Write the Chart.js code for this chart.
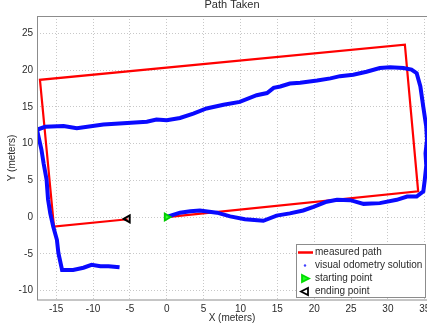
<!DOCTYPE html>
<html>
<head>
<meta charset="utf-8">
<script src="https://cdn.jsdelivr.net/npm/chart.js@4/dist/chart.umd.min.js"></script>
<style>
  html, body { margin: 0; padding: 0; background: #fff; }
  #wrap { width: 427px; height: 331px; }
</style>
</head>
<body>
<div id="wrap"><canvas id="path-chart"></canvas></div>
<script>
// measured path (red rectangle), meters
const measuredX = [0, 34.1, 32.3, -17.2, -15.3, -5.3];
const measuredY = [0, 3.5, 23.5, 18.7, -1.3, -0.3];

// visual odometry solution (blue)
const odomX = [0.2, 1.8, 3.2, 4.5, 6.8, 8.6, 10.6, 13.1, 14.9, 16.7, 18.5, 19.9, 21.7, 23.1, 24.9, 26.7,
  28.9, 31.2, 32.6, 33.9, 34.8, 35.0, 35.2, 35.1, 35.3, 35.2, 34.8, 34.4, 33.9, 33.2, 32.1, 30.3, 28.9,
  27.1, 25.3, 23.5, 22.2, 20.4, 18.1, 16.7, 15.4, 14.5, 13.6, 12.2, 9.9, 7.7, 5.4, 3.6, 1.8, 0, -1.4,
  -2.7, -5.9, -8.6, -12.2, -14.0, -16.5, -17.6, -17.4, -17.0, -16.7, -16.3, -16.1, -15.8, -15.4, -14.9,
  -14.7, -14.2, -12.7, -11.3, -10.2, -9.0, -7.9, -6.4];
const odomY = [0.1, 0.6, 0.8, 0.9, 0.6, 0.1, -0.3, -0.5, 0.2, 0.5, 0.9, 1.4, 2.1, 2.35, 2.3, 1.8,
  1.9, 2.35, 2.8, 2.8, 3.5, 5.1, 7.0, 8.7, 10.5, 12.3, 15.0, 17.8, 19.6, 20.1, 20.3, 20.4, 20.3,
  19.8, 19.4, 19.2, 18.9, 18.6, 18.3, 18.2, 17.8, 17.6, 16.9, 16.6, 15.7, 15.3, 14.8, 14.1, 13.5, 13.2, 13.3,
  13.0, 12.8, 12.6, 12.1, 12.4, 12.3, 11.9, 11.0, 9.2, 7.3, 5.1, 2.4, 0.5, -1.3, -3.1,
  -4.9, -7.2, -7.2, -6.9, -6.5, -6.7, -6.7, -6.85];

const startPoint = [0, 0];
const endPoint = [-5.3, -0.25];

const seriesLabels = ["measured path", "visual odometry solution", "starting point", "ending point"];

function toPoints(xs, ys) {
    return xs.map(function (x, i) { return { x: x, y: ys[i] }; });
}

const fontFamily = "'Liberation Sans', Arial, sans-serif";
const textColor = "#2b2b2b";

const frameAndLegend = {
    id: "frameAndLegend",
    afterDatasetsDraw: function (chart) {
        let ctx = chart.ctx;
        let a = chart.chartArea;
        ctx.save();
        ctx.strokeStyle = "#8c8c8c";
        ctx.lineWidth = 1;
        ctx.strokeRect(a.left + 0.5, a.top + 0.5, a.right - a.left, a.bottom - a.top - 0.5);
        ctx.restore();
    },
    afterDraw: function (chart) {
        let ctx = chart.ctx;
        let a = chart.chartArea;
        let bx = 296, by = a.bottom - 56, bw = 129, bh = 53;
        ctx.save();
        ctx.fillStyle = "#ffffff";
        ctx.fillRect(bx, by, bw, bh);
        ctx.strokeStyle = "#8c8c8c";
        ctx.lineWidth = 1;
        ctx.strokeRect(bx + 0.5, by + 0.5, bw, bh);
        ctx.font = "10px " + fontFamily;
        ctx.textBaseline = "middle";
        let iconX = bx + 9;
        chart.data.datasets.forEach(function (ds, i) {
            let y = by + 8.5 + i * 13;
            ctx.fillStyle = textColor;
            ctx.fillText(ds.label, bx + 19, y);
            ctx.save();
            if (i === 0) {
                ctx.strokeStyle = "#ff0000";
                ctx.lineWidth = 2.5;
                ctx.beginPath();
                ctx.moveTo(bx + 2, y);
                ctx.lineTo(bx + 17, y);
                ctx.stroke();
            } else if (i === 1) {
                ctx.fillStyle = "#4040ff";
                ctx.beginPath();
                ctx.arc(iconX, y, 1.2, 0, Math.PI * 2);
                ctx.fill();
            } else {
                let dir = i === 2 ? 1 : -1;
                ctx.strokeStyle = i === 2 ? "#00dd00" : "#000000";
                ctx.fillStyle = i === 2 ? "#22ff22" : "#ffffff";
                ctx.lineWidth = 1.8;
                ctx.beginPath();
                ctx.moveTo(iconX + dir * 4, y);
                ctx.lineTo(iconX - dir * 3, y - 3.5);
                ctx.lineTo(iconX - dir * 3, y + 3.5);
                ctx.closePath();
                ctx.fill();
                ctx.stroke();
            }
            ctx.restore();
        });
        ctx.restore();
    }
};

new Chart(document.getElementById("path-chart"), {
    type: "scatter",
    data: {
        datasets: [
            {
                label: seriesLabels[0],
                data: toPoints(measuredX, measuredY),
                showLine: true,
                borderColor: "#ff0000",
                borderWidth: 2.2,
                pointRadius: 0,
                tension: 0,
                order: 2
            },
            {
                label: seriesLabels[1],
                data: toPoints(odomX, odomY),
                showLine: true,
                borderColor: "#0a0aff",
                borderWidth: 4,
                pointRadius: 0,
                tension: 0,
                order: 1
            },
            {
                label: seriesLabels[2],
                data: [{ x: startPoint[0], y: startPoint[1] }],
                pointStyle: "triangle",
                rotation: 90,
                pointRadius: 4,
                borderWidth: 1.8,
                borderColor: "#00cc00",
                backgroundColor: "#33ff33",
                order: 0
            },
            {
                label: seriesLabels[3],
                data: [{ x: endPoint[0], y: endPoint[1] }],
                pointStyle: "triangle",
                rotation: -90,
                pointRadius: 4,
                borderWidth: 2,
                borderColor: "#000000",
                backgroundColor: "rgba(0,0,0,0)",
                order: 0
            }
        ]
    },
    options: {
        responsive: true,
        maintainAspectRatio: false,
        animation: false,
        layout: { padding: 0, autoPadding: false },
        plugins: {
            legend: { display: false },
            tooltip: { enabled: false },
            title: {
                display: true,
                fullSize: false,
                text: "Path Taken",
                color: textColor,
                font: { family: fontFamily, size: 11, weight: "normal" },
                padding: { top: -2, bottom: 4.8 }
            }
        },
        scales: {
            x: {
                type: "linear",
                min: -17.6,
                max: 35.3,
                border: { display: false, dash: [1, 2] },
                grid: { color: "#c8c8c8", drawTicks: false },
                ticks: {
                    stepSize: 5,
                    includeBounds: false,
                    padding: 3,
                    color: textColor,
                    font: { family: fontFamily, size: 10 }
                },
                title: {
                    display: true,
                    text: "X (meters)",
                    color: textColor,
                    font: { family: fontFamily, size: 10 },
                    padding: { bottom: 6.5 }
                },
                afterFit: function (scale) {
                    scale.height = 31;
                    scale.paddingLeft = 0;
                    scale.paddingRight = 0;
                }
            },
            y: {
                type: "linear",
                min: -11.3,
                max: 27.4,
                border: { display: false, dash: [1, 2] },
                grid: { color: "#c8c8c8", drawTicks: false },
                ticks: {
                    stepSize: 5,
                    includeBounds: false,
                    padding: 4,
                    color: textColor,
                    font: { family: fontFamily, size: 10 }
                },
                title: {
                    display: true,
                    text: "Y (meters)",
                    color: textColor,
                    font: { family: fontFamily, size: 10 },
                    padding: { top: 6 }
                },
                afterFit: function (scale) {
                    scale.width = 37;
                    scale.paddingTop = 0;
                    scale.paddingBottom = 0;
                }
            }
        }
    },
    plugins: [frameAndLegend]
});
</script>
</body>
</html>
